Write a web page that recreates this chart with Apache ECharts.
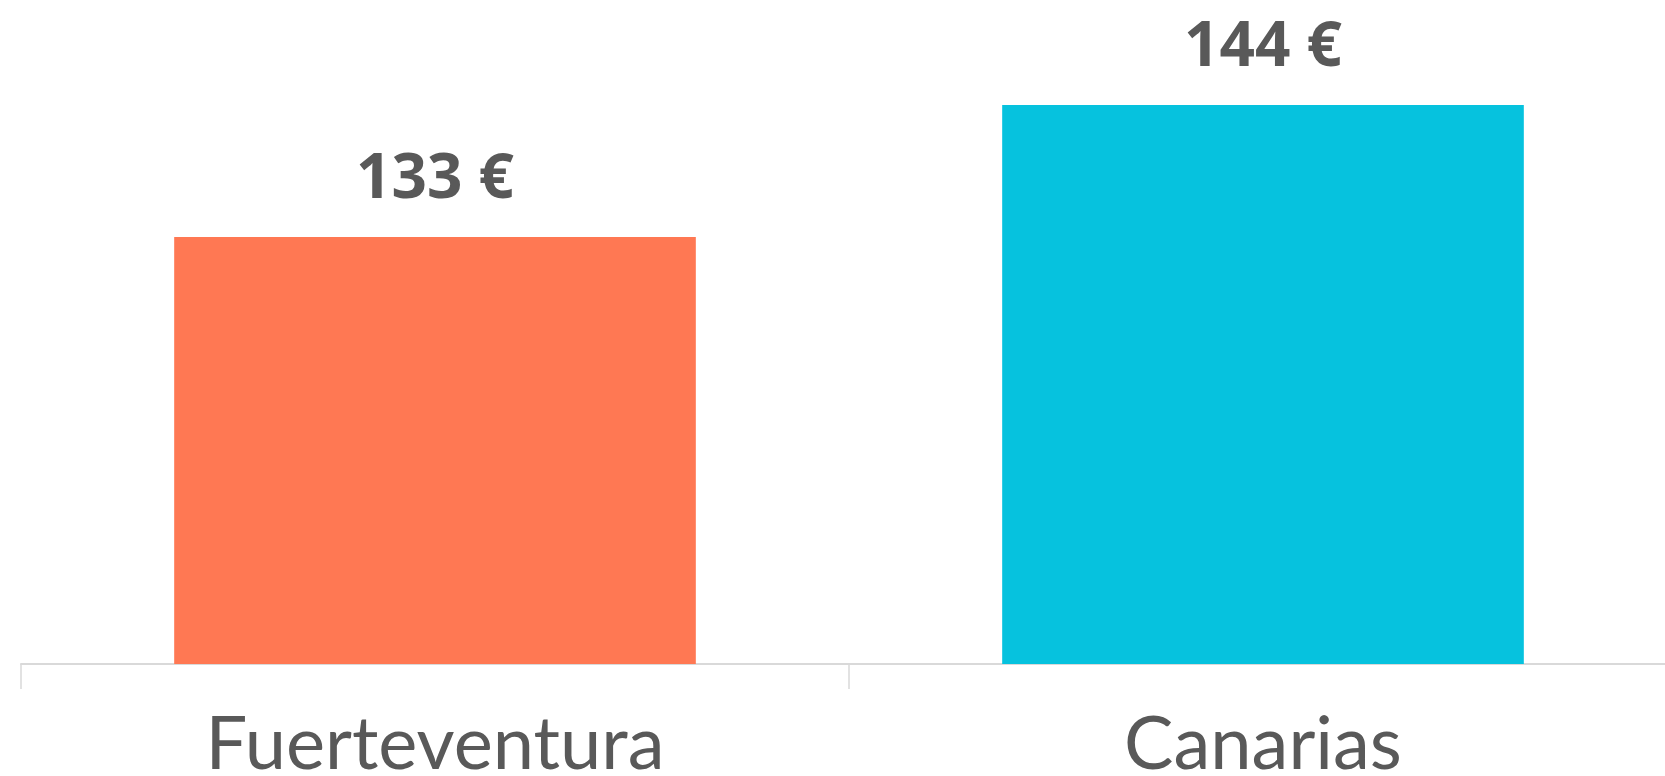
<!DOCTYPE html>
<html>
<head>
<meta charset="utf-8">
<script src="https://cdn.jsdelivr.net/npm/echarts@6/dist/echarts.min.js"></script>
<style>
html,body{margin:0;padding:0;background:#fff;}
#c{width:1665px;height:776px;}
</style>
</head>
<body>
<div id="c"></div>
<script>
const categories = ['Fuerteventura', 'Canarias'];
const values = [133, 144];
const barColors = ['#FF7853', '#06C2DE'];

const chart = echarts.init(document.getElementById('c'), null, {renderer: 'canvas'});
chart.setOption({
  animation: false,
  grid: {left: 21, width: 1656, top: 33, bottom: 112, containLabel: false, outerBoundsMode: 'none'},
  xAxis: {
    type: 'category',
    data: categories,
    axisLine: {show: true, lineStyle: {color: '#D9D9D9', width: 2}},
    axisTick: {show: true, length: 25, lineStyle: {color: '#D9D9D9', width: 1.5}},
    axisLabel: {color: '#595959', fontFamily: 'Lato', fontSize: 74, margin: 44}
  },
  yAxis: {
    type: 'value', min: 97.4, max: 150, show: false,
    splitLine: {show: false}
  },
  series: [{
    type: 'bar',
    barWidth: '63%',
    data: values.map((v, i) => ({value: v, itemStyle: {color: barColors[i]}})),
    label: {
      show: true, position: 'top', distance: 26,
      formatter: p => p.value + ' €',
      color: '#595959', fontFamily: 'Open Sans', fontWeight: 'bold', fontSize: 62
    }
  }]
});
</script>
</body>
</html>
